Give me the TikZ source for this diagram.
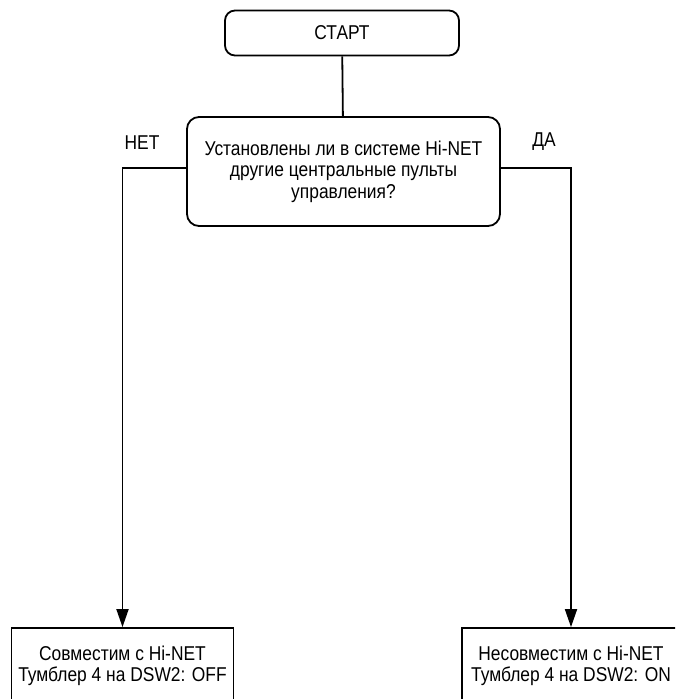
\documentclass[tikz,border=0pt]{standalone}
\usepackage{fontspec}
\setmainfont[FakeStretch=0.87]{Liberation Sans}
\usetikzlibrary{arrows.meta}

\begin{document}
\begin{tikzpicture}[x=1pt,y=-1pt,auto,
    terminal/.style ={rectangle, rounded corners=10pt, draw, line width=1.8pt,
      minimum width=234pt, minimum height=45pt, font=\fontsize{20}{21.5}\selectfont},
    question/.style ={rectangle, rounded corners=12pt, draw, line width=1.8pt,
      minimum width=313pt, minimum height=109pt, align=center,
      font=\fontsize{20}{21.5}\selectfont},
    result/.style ={rectangle, draw, line width=1.8pt, minimum height=76pt,
      align=center, font=\fontsize{20}{21}\selectfont},
    answer/.style ={font=\fontsize{20}{21.5}\selectfont}]
   \useasboundingbox (0,0) rectangle (675,699);
   \clip (0,0) rectangle (675,699);

   \node[terminal] (A) at (342,33)  {СТАРТ};
   \node[question] (B) at (343.5,171.5)  {Установлены ли в системе Hi-NET\\другие центральные пульты\\управления?};
   \node[result, minimum width=222pt] (C) at (122.5,666)  {Совместим с Hi-NET\\Тумблер 4 на DSW2: OFF};
   \node[result, minimum width=218pt] (D) at (571,666)  {Несовместим с Hi-NET\\Тумблер 4 на DSW2: ON};
   \node[answer] (E) at (142,143)  {НЕТ};
   \node[answer] (F) at (544,142)  {ДА};

   \draw[line width=1.8pt] (A) to  (B);
   \draw[line width=1.8pt, -{Triangle[length=18pt,width=12pt]}] ([yshift=3.5pt]B.west) -| (C.north);
   \draw[line width=1.8pt, -{Triangle[length=18pt,width=12pt]}] ([yshift=3.5pt]B.east) -| (D.north);
 \end{tikzpicture}
\end{document}
